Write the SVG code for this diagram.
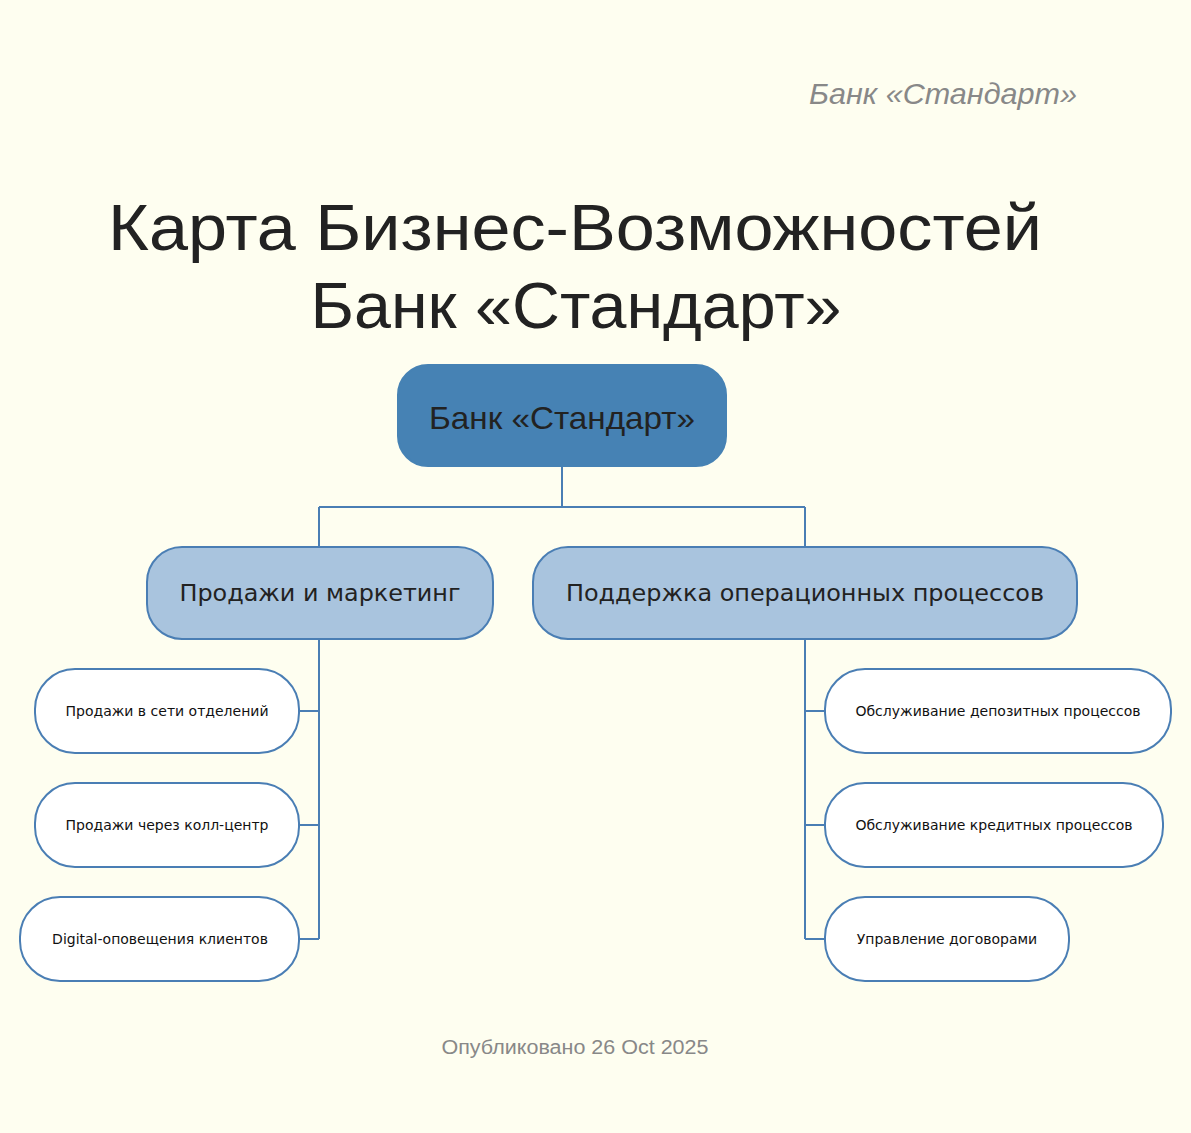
<svg xmlns="http://www.w3.org/2000/svg" width="1191" height="1133" viewBox="0 0 1191 1133">
<style>
.bg{fill:#FEFEF0}
.gt{font-family:"Liberation Sans","DejaVu Sans",sans-serif;fill:#222}
.root{fill:#4682B4;stroke:#4682B4;stroke-width:2}
.l2{fill:#A9C4DE;stroke:#4A7EB4;stroke-width:2}
.leaf{fill:#FFFFFF;stroke:#4A7EB4;stroke-width:2}
.l2t{font-family:"DejaVu Sans",sans-serif;font-size:23px;fill:#222;text-anchor:middle}
.lt{font-family:"DejaVu Sans",sans-serif;font-size:14px;fill:#111;text-anchor:middle}
.conn{fill:none;stroke:#4A7EB4;stroke-width:2}
</style>
<rect class="bg" x="0" y="0" width="1191" height="1133"/>
<text x="1077" y="104" text-anchor="end" font-family="Liberation Sans, DejaVu Sans, sans-serif" font-style="italic" font-size="30" fill="#888" textLength="268" lengthAdjust="spacingAndGlyphs">Банк «Стандарт»</text>
<text class="gt" x="575" y="250" text-anchor="middle" font-size="64" textLength="934" lengthAdjust="spacingAndGlyphs">Карта Бизнес-Возможностей</text>
<text class="gt" x="576" y="328" text-anchor="middle" font-size="64" textLength="531" lengthAdjust="spacingAndGlyphs">Банк «Стандарт»</text>
<g id="connectors">
<path class="conn" d="M562,466 V507 M319,507 H805 M319,507 V547 M805,507 V547"/>
<path class="conn" d="M319,639 V939 M299,711 H319 M299,825 H319 M299,939 H319"/>
<path class="conn" d="M805,639 V939 M805,711 H825 M805,825 H825 M805,939 H825"/>
</g>
<g id="root">
<rect class="root" x="398" y="365" width="328" height="101" rx="30"/>
<text x="562" y="429" text-anchor="middle" font-family="Liberation Sans, DejaVu Sans, sans-serif" font-size="32" fill="#222" textLength="266" lengthAdjust="spacingAndGlyphs">Банк «Стандарт»</text>
</g>
<g id="sales">
<rect class="l2" x="147" y="547" width="346" height="92" rx="35"/>
<text class="l2t" x="320" y="601" textLength="281" lengthAdjust="spacingAndGlyphs">Продажи и маркетинг</text>
</g>
<g id="ops">
<rect class="l2" x="533" y="547" width="544" height="92" rx="35"/>
<text class="l2t" x="805" y="601" textLength="478" lengthAdjust="spacingAndGlyphs">Поддержка операционных процессов</text>
</g>
<g id="leaf-branch">
<rect class="leaf" x="35" y="669" width="264" height="84" rx="40"/>
<text class="lt" x="167" y="716">Продажи в сети отделений</text>
</g>
<g id="leaf-callcenter">
<rect class="leaf" x="35" y="783" width="264" height="84" rx="40"/>
<text class="lt" x="167" y="830">Продажи через колл-центр</text>
</g>
<g id="leaf-digital">
<rect class="leaf" x="20" y="897" width="279" height="84" rx="40"/>
<text class="lt" x="160" y="944">Digital-оповещения клиентов</text>
</g>
<g id="leaf-deposit">
<rect class="leaf" x="825" y="669" width="346" height="84" rx="40"/>
<text class="lt" x="998" y="716">Обслуживание депозитных процессов</text>
</g>
<g id="leaf-credit">
<rect class="leaf" x="825" y="783" width="338" height="84" rx="40"/>
<text class="lt" x="994" y="830">Обслуживание кредитных процессов</text>
</g>
<g id="leaf-contracts">
<rect class="leaf" x="825" y="897" width="244" height="84" rx="40"/>
<text class="lt" x="947" y="944">Управление договорами</text>
</g>
<text x="575" y="1054" text-anchor="middle" font-family="Liberation Sans, DejaVu Sans, sans-serif" font-size="20" fill="#888" textLength="267" lengthAdjust="spacingAndGlyphs">Опубликовано 26 Oct 2025</text>
</svg>
